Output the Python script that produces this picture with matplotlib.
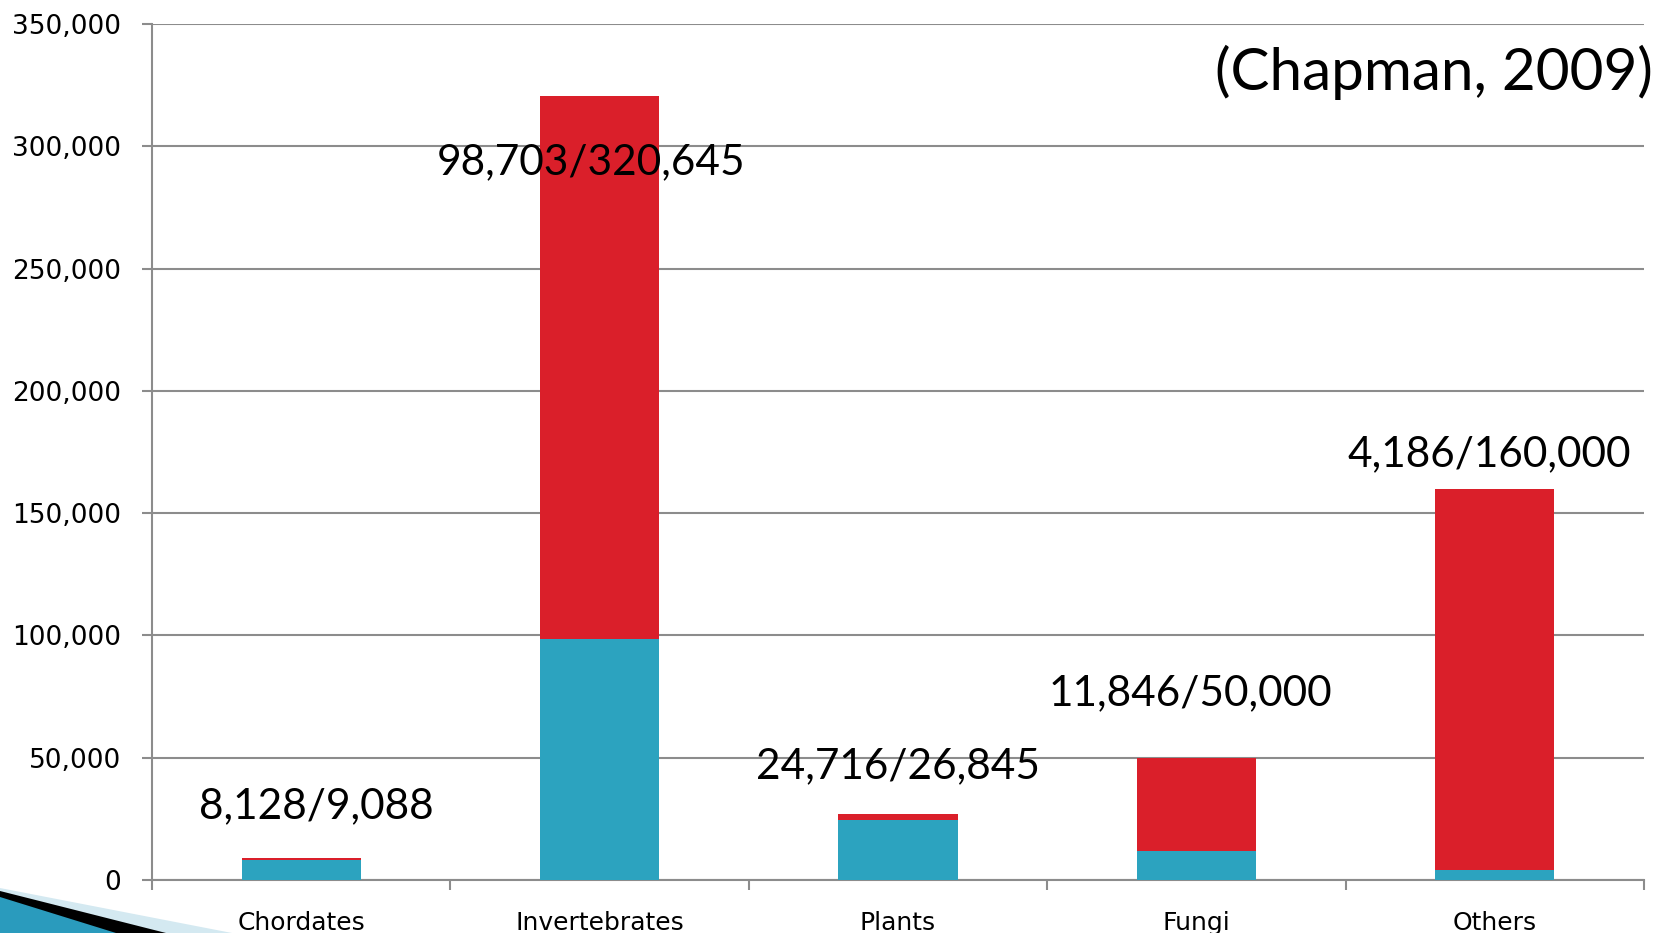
import numpy as np
import matplotlib
matplotlib.use("Agg")
import matplotlib.pyplot as plt
from matplotlib.patches import Polygon

# Dados
categories = ["Chordates", "Invertebrates", "Plants", "Fungi", "Others"]
described = [8128, 98703, 24716, 11846, 4186]
estimated = [9088, 320645, 26845, 50000, 160000]
label_y = [30000, 293500, 46500, 76500, 174000]
label_dx = [0.05, -0.03, 0.0, -0.02, -0.02]

blue = "#2ca3bf"
red = "#da1f2a"
grey = "#8c8c8c"

W, H = 1669, 933
fig = plt.figure(figsize=(W / 100, H / 100), dpi=100)
ax = fig.add_axes([152 / W, (H - 880) / H, (1644 - 152) / W, 856 / H])

x = np.arange(len(categories))
rest = [e - d for d, e in zip(described, estimated)]
ax.bar(x, described, width=0.4, color=blue, zorder=3)
ax.bar(x, rest, bottom=described, width=0.4, color=red, zorder=3)

ax.set_xlim(-0.5, len(categories) - 0.5)
ax.set_ylim(0, 350000)
ax.set_yticks(np.arange(0, 350001, 50000))
ax.set_yticklabels([f"{v:,}" for v in range(0, 350001, 50000)], fontsize=19)
ax.yaxis.grid(True, color=grey, linewidth=1.5, zorder=0)
ax.tick_params(axis="y", length=7, width=1.5, color=grey, pad=15)

ax.set_xticks(x)
ax.set_xticklabels(categories, fontsize=18)
ax.set_xticks(np.arange(-0.5, len(categories), 1), minor=True)
ax.tick_params(axis="x", which="major", length=0, pad=22)
ax.tick_params(axis="x", which="minor", length=7, width=1.5, color=grey)

for s in ["top", "right"]:
    ax.spines[s].set_visible(False)
for s in ["left", "bottom"]:
    ax.spines[s].set_color(grey)
    ax.spines[s].set_linewidth(1.5)

# rótulos das barras
for i in range(len(categories)):
    ax.text(i + label_dx[i], label_y[i], f"{described[i]:,}/{estimated[i]:,}",
            ha="center", va="center", fontsize=30.5, family="Lato", zorder=5)

ax.text(1.006, 0.944, "(Chapman, 2009)", transform=ax.transAxes, ha="right",
        va="center", fontsize=42, family="Lato")

# decoração do canto inferior esquerdo
def fig_poly(pts, color):
    p = Polygon([(px / W, 1 - py / H) for px, py in pts], closed=True,
                transform=fig.transFigure, facecolor=color, edgecolor="none")
    fig.patches.append(p)

fig_poly([(0, 888), (232, 933), (0, 933)], "#d4e9f1")
fig_poly([(0, 891), (166, 933), (0, 933)], "black")
fig_poly([(0, 897), (116, 933), (0, 933)], "#2a9bbd")

plt.savefig("out.png", dpi=100)
